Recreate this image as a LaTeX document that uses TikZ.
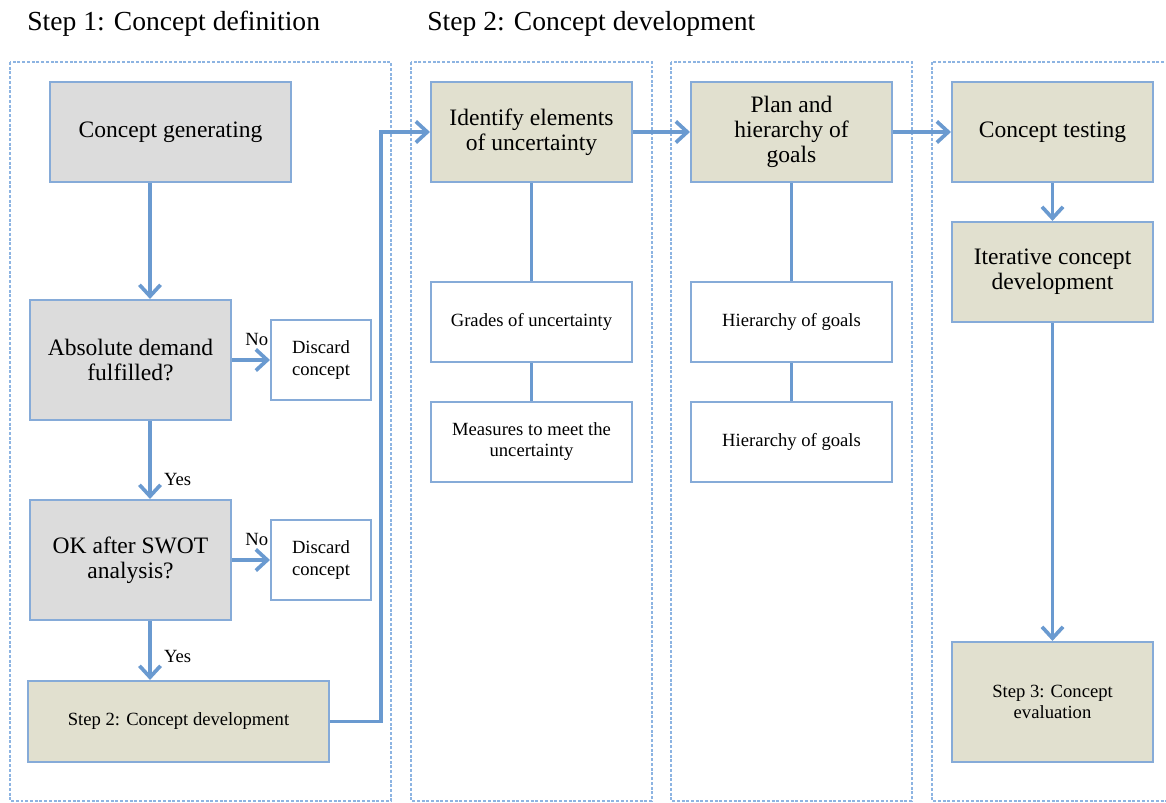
\documentclass[tikz,border=0pt]{standalone}
\usepackage{fontspec}
\setmainfont{Liberation Serif}
\usetikzlibrary{positioning,arrows.meta}
\definecolor{blue400}{HTML}{6A9AD0}
\definecolor{blue300}{HTML}{86ABD8}
\definecolor{blue200}{HTML}{8DB4E2}
\definecolor{grey200}{HTML}{DCDCDC}
\definecolor{sand200}{HTML}{E1E0CF}
\newcommand{\bigtxt}{\fontsize{13.4}{14.4}\selectfont}
\newcommand{\smalltxt}{\fontsize{10.6}{12}\selectfont}
\tikzset{
  every node/.style={font=\bigtxt},
  panel/.style={
    draw=blue200, line width=0.8pt,
    dash pattern=on 1.7pt off 1pt
  },
  title/.style={font=\fontsize{15.7}{18}\selectfont, anchor=west, inner sep=0pt},
  decision/.style={
    rectangle, draw=blue300, fill=grey200, line width=1.2pt,
    minimum width=4.02cm, minimum height=2.4cm,
    align=center, inner sep=0pt
  },
  stage/.style={
    rectangle, draw=blue300, fill=sand200, line width=1.2pt,
    minimum width=4.02cm, minimum height=2cm,
    align=center, inner sep=0pt
  },
  detail/.style={
    rectangle, draw=blue300, fill=white, line width=1.2pt,
    minimum width=4.02cm, minimum height=1.6cm,
    align=center, inner sep=0pt, font=\smalltxt
  },
  lbl/.style={font=\smalltxt, inner sep=1pt},
  arrow/.style={
    -{Straight Barb[length=6.5pt,width=12pt]},
    line width=2.1pt, draw=blue400
  },
  link/.style={line width=2.1pt, draw=blue400},
}

\begin{document}
\begin{tikzpicture}[x=0.02cm, y=-0.02cm]
  \useasboundingbox (0,0) rectangle (1166,803);
  \node[title] (t1) at (27,24) {Step 1: Concept definition};
  \node[title] (t2) at (427,24) {Step 2: Concept development};
  \draw[panel] (10,62) rectangle (391,801);
  \draw[panel] (411,62) rectangle (652,801);
  \draw[panel] (671,62) rectangle (912,801);
  \draw[panel] (932,62) rectangle (1170,801);

  \node[decision, minimum width=4.82cm, minimum height=2cm] (gen) at (170.5,132) {Concept generating};
  \node[decision] (absd) at (130.5,360) {Absolute demand\\fulfilled?};
  \node[detail, minimum width=2cm] (disc1) at (321,360) {Discard\\concept};
  \node[decision] (swot) at (130.5,560) {OK after SWOT\\analysis?};
  \node[detail, minimum width=2cm] (disc2) at (321,560) {Discard\\concept};
  \node[stage, minimum width=6.02cm, minimum height=1.62cm, font=\smalltxt] (step2) at (178.5,721.5) {Step 2: Concept development};
  \coordinate (flow) at (150,0);
  \coordinate (bend) at (381,400);

  \node[stage] (ident) at (531.5,132) {Identify elements\\of uncertainty};
  \node[detail] (grades) at (531.5,322) {Grades of uncertainty};
  \node[detail] (meas) at (531.5,442) {Measures to meet the\\uncertainty};

  \node[stage] (plan) at (791.5,132) {Plan and\\hierarchy of\\goals};
  \node[detail] (hier1) at (791.5,322) {Hierarchy of goals};
  \node[detail] (hier2) at (791.5,442) {Hierarchy of goals};

  \node[stage] (test) at (1052.5,132) {Concept testing};
  \node[stage] (iter) at (1052.5,272) {Iterative concept\\development};
  \node[stage, minimum height=2.4cm, font=\smalltxt] (step3) at (1052.5,702) {Step 3: Concept\\evaluation};

  \draw[arrow] (gen.south -| flow) -- (absd.north -| flow);
  \draw[arrow] (absd) -- node[lbl, pos=0.65, above=6pt] {No} (disc1);
  \draw[arrow] (absd.south -| flow) -- node[lbl, pos=0.75, right=6pt] {Yes} (swot.north -| flow);
  \draw[arrow] (swot) -- node[lbl, pos=0.65, above=6pt] {No} (disc2);
  \draw[arrow] (swot.south -| flow) -- node[lbl, pos=0.6, right=6pt] {Yes} (step2.north -| flow);
  \draw[arrow] (step2.east) -| (bend) |- (ident.west);
  \draw[arrow] (ident) -- (plan);
  \draw[arrow] (plan) -- (test);
  \draw[link] (ident) -- (grades);
  \draw[link] (grades) -- (meas);
  \draw[link] (plan) -- (hier1);
  \draw[link] (hier1) -- (hier2);
  \draw[arrow] (test) -- (iter);
  \draw[arrow] (iter) -- (step3);
\end{tikzpicture}
\end{document}
